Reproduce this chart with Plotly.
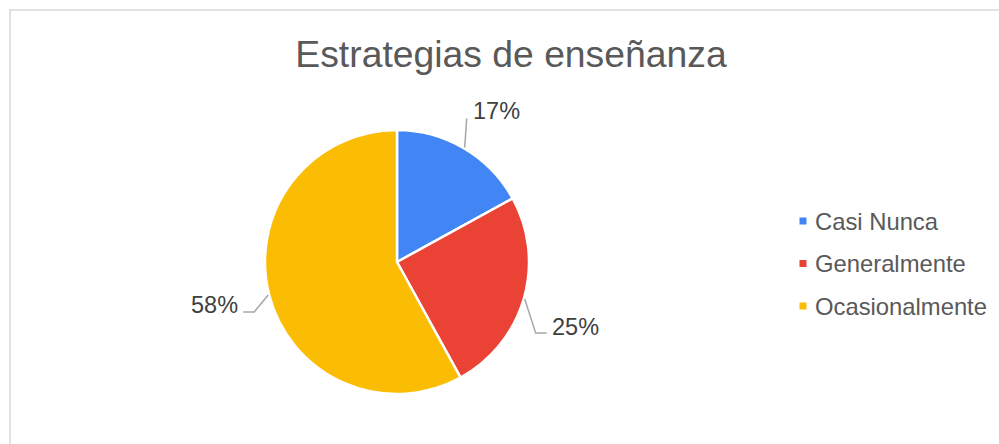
import math
import plotly.graph_objects as go

# ---- data ----
categories = ["Casi Nunca", "Generalmente", "Ocasionalmente"]
percent_values = [17, 25, 58]
slice_colors = ["#4285F4", "#EA4335", "#FBBC04"]
chart_title = "Estrategias de enseñanza"

# ---- layout constants (pixels) ----
W, H = 999, 444
CX, CY, R = 397, 262, 132
FONT = "Liberation Sans, Arial"

def px(x):
    return x / W

def py(y):
    return 1 - y / H

fig = go.Figure()
fig.add_trace(go.Pie(
    labels=categories,
    values=percent_values,
    marker=dict(colors=slice_colors, line=dict(color="white", width=2.5)),
    sort=False,
    direction="clockwise",
    rotation=0,
    textinfo="none",
    hoverinfo="label+percent",
    showlegend=False,
    domain=dict(x=[px(CX - R), px(CX + R)], y=[py(CY + R), py(CY - R)]),
))

# leader-line shapes (relative to slice mid-edge point) and label placement
leader_style = [
    dict(path=[(2, -29)], text=(6, -37), anchor="left"),
    dict(path=[(11, 34), (22, 34)], text=(25, 28), anchor="left"),
    dict(path=[(-14, 17), (-25, 17)], text=(-28, 10), anchor="right"),
]

shapes = []
annotations = []
total = sum(percent_values)
cum = 0
for val, style in zip(percent_values, leader_style):
    mid = (cum + val / 2) / total * 2 * math.pi
    cum += val
    ex = CX + (R + 1) * math.sin(mid)
    ey = CY - (R + 1) * math.cos(mid)
    pts = [(ex, ey)] + [(ex + dx, ey + dy) for dx, dy in style["path"]]
    d = "M " + " L ".join(f"{px(x):.5f},{py(y):.5f}" for x, y in pts)
    shapes.append(dict(type="path", path=d, xref="paper", yref="paper",
                       line=dict(color="#A6A6A6", width=1.5)))
    tx, ty = ex + style["text"][0], ey + style["text"][1]
    annotations.append(dict(
        x=px(tx), y=py(ty), xref="paper", yref="paper",
        text=f"{round(val / total * 100)}%", showarrow=False,
        xanchor=style["anchor"], yanchor="middle",
        font=dict(family=FONT, size=23.5, color="#404040"),
    ))

# manual legend
LEG_X, LEG_Y0, LEG_DY = 803, 221, 42.5
for i, (cat, col) in enumerate(zip(categories, slice_colors)):
    y = LEG_Y0 + i * LEG_DY
    shapes.append(dict(type="rect", xref="paper", yref="paper",
                       x0=px(LEG_X - 3.5), x1=px(LEG_X + 3.5),
                       y0=py(y + 3.5), y1=py(y - 3.5),
                       fillcolor=col, line=dict(width=0)))
    annotations.append(dict(
        x=px(LEG_X + 10), y=py(y), xref="paper", yref="paper",
        text=cat, showarrow=False, xanchor="left", yanchor="middle",
        font=dict(family=FONT, size=23.8, color="#595959"),
    ))

# chart border
shapes.append(dict(type="rect", xref="paper", yref="paper",
                   x0=px(10), x1=px(W + 20), y0=py(H + 20), y1=py(10),
                   line=dict(color="#D9D9D9", width=1.5), fillcolor="rgba(0,0,0,0)"))

fig.update_layout(
    width=W, height=H,
    margin=dict(l=0, r=0, t=0, b=0),
    paper_bgcolor="white",
    plot_bgcolor="white",
    title=dict(text=chart_title, x=px(511), xanchor="center",
               y=py(54), yanchor="middle", yref="paper",
               font=dict(family=FONT, size=37.3, color="#595959")),
    shapes=shapes,
    annotations=annotations,
)

fig.write_html("out.html", config={"displayModeBar": False},
               post_script="document.body.style.margin='0';")
